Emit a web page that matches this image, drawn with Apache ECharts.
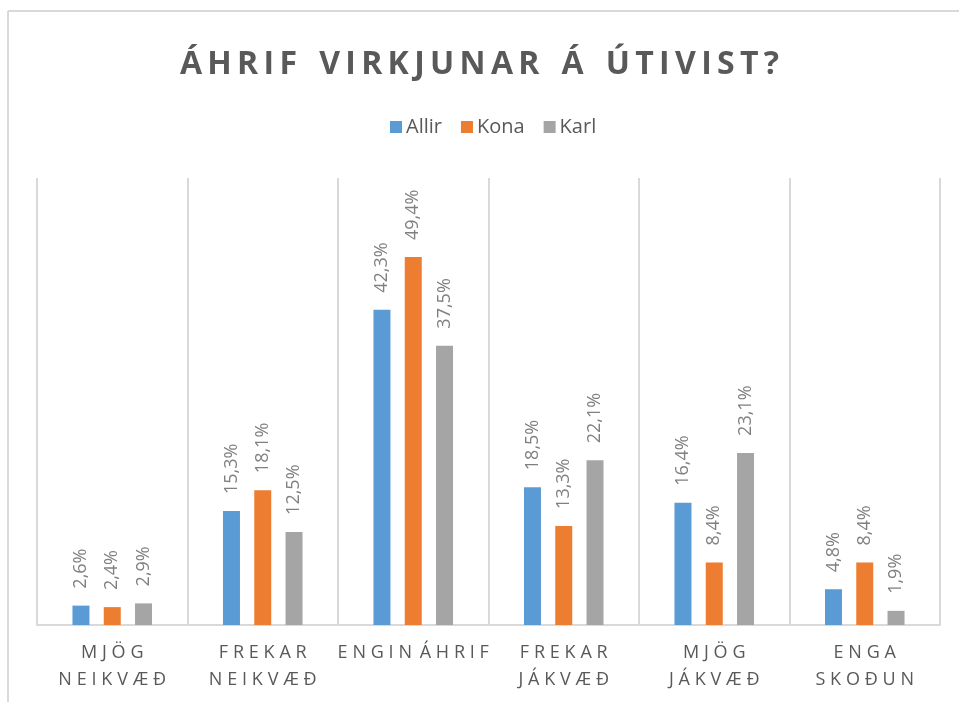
<!DOCTYPE html>
<html>
<head>
<meta charset="utf-8">
<script src="https://cdn.jsdelivr.net/npm/echarts@6/dist/echarts.min.js"></script>
<style>
  html, body { margin: 0; padding: 0; background: #fff; }
  #chart { width: 959px; height: 702px; }
</style>
</head>
<body>
<div id="chart"></div>
<script>
const titleText = 'ÁHRIF VIRKJUNAR Á ÚTIVIST?';
const categories = ['MJÖG\nNEIKVÆÐ', 'FREKAR\nNEIKVÆÐ', 'ENGIN ÁHRIF', 'FREKAR\nJÁKVÆÐ', 'MJÖG\nJÁKVÆÐ', 'ENGA\nSKOÐUN'];
const seriesNames = ['Allir', 'Kona', 'Karl'];
const allir = [2.6, 15.3, 42.3, 18.5, 16.4, 4.8];
const kona = [2.4, 18.1, 49.4, 13.3, 8.4, 8.4];
const karl = [2.9, 12.5, 37.5, 22.1, 23.1, 1.9];
const colors = ['#5B9BD5', '#ED7D31', '#A5A5A5'];

// spread letters apart with thin spaces; word gaps get a little extra
function spaced(str, gap, wordGap) {
  return str.split('\n').map(line =>
    line.split(' ').map(w => Array.from(w).join(gap)).join(wordGap)
  ).join('\n');
}

const pct = v => v.toFixed(1).replace('.', ',') + '%';

function barSeries(name, data, color) {
  return {
    name: name,
    type: 'bar',
    data: data,
    barWidth: 17,
    barGap: '84%',
    itemStyle: { color: color },
    label: {
      show: true,
      position: 'top',
      rotate: 90,
      align: 'left',
      verticalAlign: 'middle',
      distance: 17,
      formatter: p => pct(p.value),
      color: '#808080',
      fontFamily: 'Open Sans',
      fontSize: 18
    }
  };
}

const chart = echarts.init(document.getElementById('chart'));
chart.setOption({
  animation: false,
  backgroundColor: '#fff',
  title: {
    text: spaced(titleText, '\u2009', '\u2009 \u2009\u200A'),
    left: 'center',
    top: 44,
    textStyle: { fontFamily: 'Open Sans', fontWeight: 'bold', fontSize: 32, color: '#595959' }
  },
  legend: {
    data: seriesNames,
    left: 385,
    top: 112,
    itemWidth: 12,
    itemHeight: 12,
    itemGap: 19,
    icon: 'rect',
    textStyle: { fontFamily: 'Open Sans', fontSize: 20, color: '#595959', padding: [0, 0, 0, -1] }
  },
  grid: { left: 37, right: 19, top: 178, bottom: 77, containLabel: false },
  xAxis: {
    type: 'category',
    data: categories,
    axisLine: { lineStyle: { color: '#D9D9D9', width: 2 } },
    axisTick: { show: false },
    splitLine: { show: true, lineStyle: { color: '#D9D9D9', width: 2 } },
    axisLabel: {
      interval: 0,
      margin: 14,
      lineHeight: 27,
      fontFamily: 'Open Sans',
      fontSize: 18,
      color: '#595959',
      formatter: v => spaced(v, '\u2009\u200A', '\u2009 ')
    }
  },
  yAxis: {
    type: 'value',
    min: 0,
    max: 60,
    show: false,
    splitLine: { show: false }
  },
  graphic: [
    { type: 'line', shape: { x1: 8, y1: 11, x2: 959, y2: 11 }, style: { stroke: '#D9D9D9', lineWidth: 2 } },
    { type: 'line', shape: { x1: 8, y1: 11, x2: 8, y2: 702 }, style: { stroke: '#D9D9D9', lineWidth: 2 } }
  ],
  series: [
    barSeries(seriesNames[0], allir, colors[0]),
    barSeries(seriesNames[1], kona, colors[1]),
    barSeries(seriesNames[2], karl, colors[2])
  ]
});
</script>
</body>
</html>
